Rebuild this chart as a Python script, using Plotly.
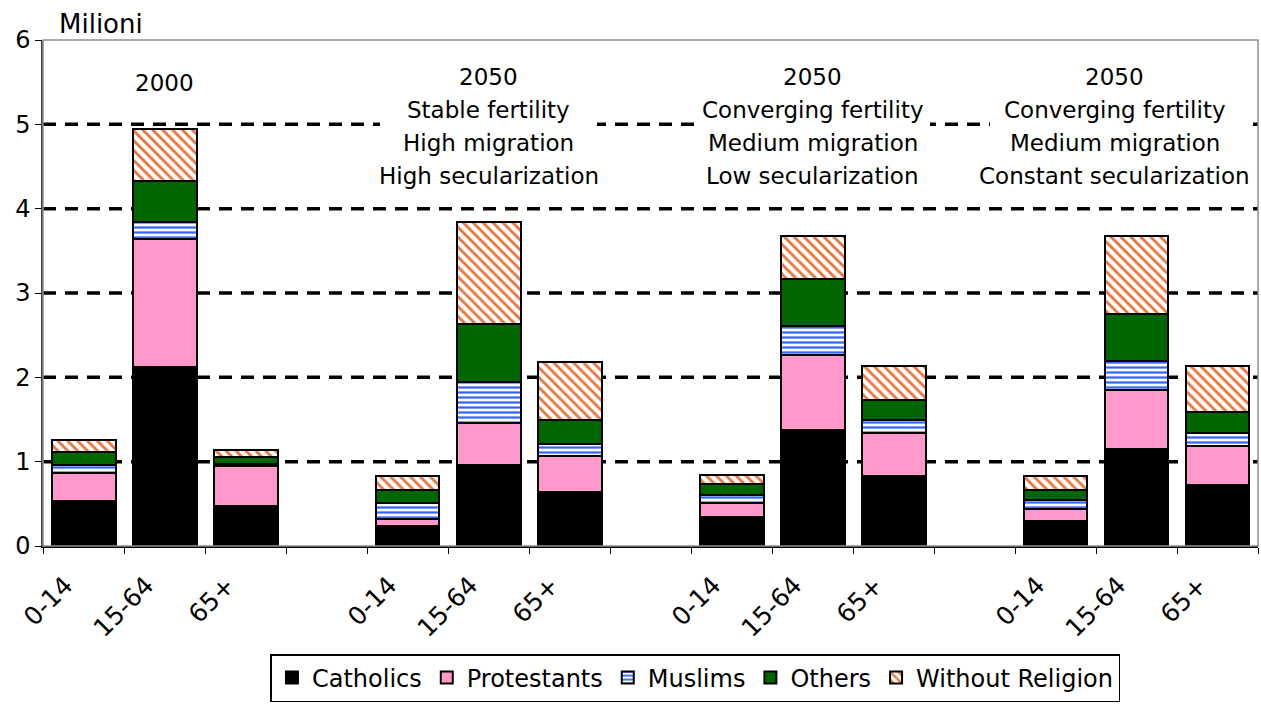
import plotly.graph_objects as go

categories = ["0-14", "15-64", "65+", " ",
              "0-14 ", "15-64 ", "65+ ", "  ",
              "0-14  ", "15-64  ", "65+  ", "   ",
              "0-14   ", "15-64   ", "65+   "]
tick_labels = ["0-14", "15-64", "65+", "",
               "0-14", "15-64", "65+", "",
               "0-14", "15-64", "65+", "",
               "0-14", "15-64", "65+"]

catholics   = [0.53, 2.12, 0.47, None, 0.24, 0.96, 0.64, None, 0.34, 1.38, 0.83, None, 0.30, 1.15, 0.72]
protestants = [0.34, 1.52, 0.48, None, 0.08, 0.50, 0.43, None, 0.17, 0.89, 0.51, None, 0.14, 0.70, 0.47]
muslims     = [0.09, 0.20, 0.02, None, 0.19, 0.48, 0.14, None, 0.10, 0.34, 0.15, None, 0.10, 0.34, 0.15]
others      = [0.16, 0.49, 0.09, None, 0.16, 0.69, 0.29, None, 0.12, 0.56, 0.24, None, 0.12, 0.56, 0.25]
without_rel = [0.14, 0.62, 0.08, None, 0.16, 1.21, 0.68, None, 0.11, 0.51, 0.40, None, 0.17, 0.93, 0.54]

scenario_lines = [["2000"],
                  ["2050", "Stable fertility", "High migration", "High secularization"],
                  ["2050", "Converging fertility", "Medium migration", "Low secularization"],
                  ["2050", "Converging fertility", "Medium migration", "Constant secularization"]]
scenario_anchor = ["15-64", "15-64 ", "15-64  ", "15-64   "]

grid_levels = [1, 2, 3, 4, 5]
y_ticks = [0, 1, 2, 3, 4, 5, 6]

# ---- layout geometry (pixels) ----
W, H = 1261, 704
ML, MR, MT, MB = 43, 3, 40, 157
PW, PH = W - ML - MR, H - MT - MB


def px_x(p):
    return (p - ML) / PW


def px_y(p):
    return (H - MB - p) / PH


FONT = "DejaVu Sans, sans-serif"
ANN_FONT = "DejaVu Sans, sans-serif"
line = dict(color="black", width=2)

fig = go.Figure()
fig.add_trace(go.Bar(name="Catholics", x=categories, y=catholics,
                     marker=dict(color="black", line=line)))
fig.add_trace(go.Bar(name="Protestants", x=categories, y=protestants,
                     marker=dict(color="#FF99CC", line=line)))
fig.add_trace(go.Bar(name="Muslims", x=categories, y=muslims,
                     marker=dict(color="white", line=line,
                                 pattern=dict(shape="-", fgcolor="#3366FF", bgcolor="white",
                                              size=5, solidity=0.45, fillmode="replace"))))
fig.add_trace(go.Bar(name="Others", x=categories, y=others,
                     marker=dict(color="#006600", line=line)))
fig.add_trace(go.Bar(name="Without Religion", x=categories, y=without_rel,
                     marker=dict(color="white", line=line,
                                 pattern=dict(shape="\\", fgcolor="#E8743B", bgcolor="white",
                                              size=7, solidity=0.4, fillmode="replace"))))

for lvl in grid_levels:
    fig.add_shape(type="line", xref="paper", x0=0, x1=1, yref="y", y0=lvl, y1=lvl,
                  line=dict(color="black", width=3.5, dash="13px,9px"), layer="below")

# white boxes behind the scenario text blocks (they interrupt the gridlines)
for x0, x1 in [(380, 597), (698, 930), (990, 1250)]:
    fig.add_shape(type="rect", xref="paper", yref="paper",
                  x0=px_x(x0), x1=px_x(x1), y0=px_y(190), y1=px_y(92),
                  fillcolor="white", line=dict(width=0), layer="below")

# frame
fig.add_shape(type="rect", xref="paper", yref="paper", x0=0, x1=1, y0=0, y1=1,
              line=dict(color="#909090", width=1.5), layer="above")

line_centers = [77, 110, 143, 176]
for lines, anc in zip(scenario_lines, scenario_anchor):
    shift = -22 if anc == scenario_anchor[-1] else 0
    for i, txt in enumerate(lines):
        yc = 83 if len(lines) == 1 else line_centers[i]
        fig.add_annotation(x=anc, xref="x", y=1, yref="paper", yanchor="middle",
                           yshift=-(yc - MT), xshift=shift, text=txt, showarrow=False,
                           font=dict(family=ANN_FONT, size=23, color="black"))

fig.add_annotation(x=0, y=1, xref="paper", yref="paper", text="Milioni",
                   showarrow=False, xanchor="left", yanchor="middle", xshift=14, yshift=16,
                   font=dict(family=FONT, size=26, color="black"))

fig.update_layout(
    width=W, height=H,
    barmode="stack", bargap=0.21,
    plot_bgcolor="white", paper_bgcolor="white",
    margin=dict(l=ML, r=MR, t=MT, b=MB),
    font=dict(family=FONT, size=24, color="black"),
    showlegend=True,
    legend=dict(orientation="h", x=0.537, xanchor="center", y=px_y(702), yanchor="bottom",
                bordercolor="black", borderwidth=1.5, font=dict(size=24, family=FONT),
                traceorder="normal", itemwidth=30, tracegroupgap=0),
    xaxis=dict(type="category", categoryorder="array", categoryarray=categories,
               tickmode="array", tickvals=categories, ticktext=tick_labels,
               tickangle=-45, tickson="boundaries", ticks="outside", ticklen=6,
               tickcolor="black", showline=True, linecolor="black", linewidth=1.5,
               showgrid=False, tickfont=dict(size=25, family=FONT), range=[-0.5, 14.5],
               ticklabelstandoff=13, ticklabelshift=-18),
    yaxis=dict(range=[0, 6], tickvals=y_ticks, ticks="outside", ticklen=6,
               tickcolor="black", showline=True, linecolor="#404040", linewidth=1.5,
               showgrid=False, zeroline=False, tickfont=dict(size=24, family=FONT)),
)

fig.write_html("out.html", config={"displayModeBar": False},
               post_script="document.body.style.margin='0';document.body.style.overflow='hidden';")
